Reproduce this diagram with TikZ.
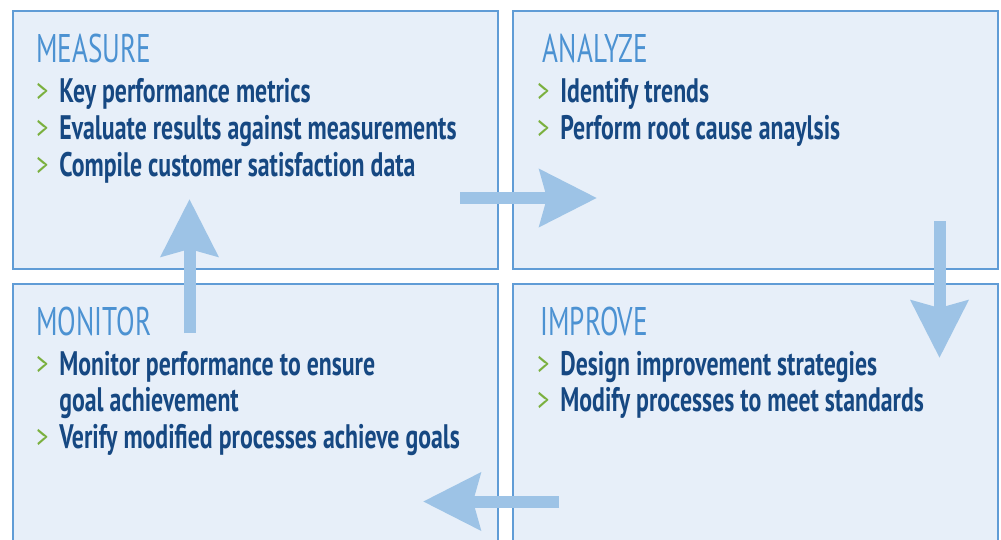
\documentclass[tikz,border=0pt]{standalone}
\usepackage{fontspec}
\setmainfont{PT Sans}
\newfontfamily\headfont{PT Sans}[FakeStretch=0.68]
\newfontfamily\listfont{PT Sans}[FakeStretch=0.70]
\usetikzlibrary{positioning,arrows.meta}
\definecolor{panelfill}{RGB}{231,239,249}
\definecolor{paneldraw}{RGB}{96,156,214}
\definecolor{flowblue}{RGB}{157,195,230}
\definecolor{headblue}{RGB}{76,146,210}
\definecolor{textnavy}{RGB}{22,72,130}
\definecolor{bulletgreen}{RGB}{122,176,62}
\newcommand{\itm}{\makebox[11.5pt][l]{\mdseries\color{bulletgreen}>}}
\newcommand{\cont}{\hspace*{11.5pt}}

\begin{document}
\begin{tikzpicture}[x=0.5pt, y=-0.5pt,
    panel/.style  = {draw=paneldraw, fill=panelfill, line width=1.2pt, rectangle,
                     minimum width=242.5pt, inner sep=0pt},
    title/.style  = {anchor=base west, inner sep=0pt, text=headblue,
                     font=\headfont\fontsize{20}{24}\selectfont},
    items/.style  = {anchor=base west, inner sep=0pt, text=textnavy,
                     font=\listfont\bfseries\fontsize{17}{18.35}\selectfont},
    flow/.style   = {draw=flowblue, line width=6pt,
                     -{Stealth[length=28.5pt, width=28pt, inset=3.5pt, fill=flowblue]}}]

  \clip (0,0) rectangle (1001,540);

  % the four panels
  \draw (255.5,140) node[panel, minimum height=129pt] (Measure) {};
  \draw (755.5,140) node[panel, minimum height=129pt] (Analyze) {};
  \draw (255.5,422) node[panel, minimum height=138pt] (Monitor) {};
  \draw (755.5,422) node[panel, minimum height=138pt] (Improve) {};

  \draw (36,62.7) node[title] (MeasureT) {MEASURE};
  \draw (36,103) node[items] (MeasureL) {\begin{tabular}[t]{@{}l@{}}
      \itm Key performance metrics\\
      \itm Evaluate results against measurements\\
      \itm Compile customer satisfaction data
    \end{tabular}};

  \draw (542.5,62.7) node[title] (AnalyzeT) {ANALYZE};
  \draw (537,103) node[items] (AnalyzeL) {\begin{tabular}[t]{@{}l@{}}
      \itm Identify trends\\
      \itm Perform root cause anaylsis
    \end{tabular}};

  \draw (36,335) node[title] (MonitorT) {MONITOR};
  \draw (36,375) node[items] (MonitorL) {\begin{tabular}[t]{@{}l@{}}
      \itm Monitor performance to ensure\\
      \cont goal achievement\\
      \itm Verify modified processes achieve goals
    \end{tabular}};

  \draw (540,335) node[title] (ImproveT) {IMPROVE};
  \draw (537,375) node[items] (ImproveL) {\begin{tabular}[t]{@{}l@{}}
      \itm Design improvement strategies\\
      \itm Modify processes to meet standards
    \end{tabular}};

  % arrows round the cycle
  \coordinate (ra0) at (460,198);   \coordinate (ra1) at (597,198);
  \coordinate (da0) at (939.5,221); \coordinate (da1) at (939.5,358);
  \coordinate (la0) at (559,501.5); \coordinate (la1) at (423,501.5);
  \coordinate (ua0) at (189.5,333); \coordinate (ua1) at (189.5,199);
  \draw [flow] (ra0) -- (ra1);
  \draw [flow] (da0) -- (da1);
  \draw [flow] (la0) -- (la1);
  \draw [flow] (ua0) -- (ua1);

\end{tikzpicture}
\end{document}
